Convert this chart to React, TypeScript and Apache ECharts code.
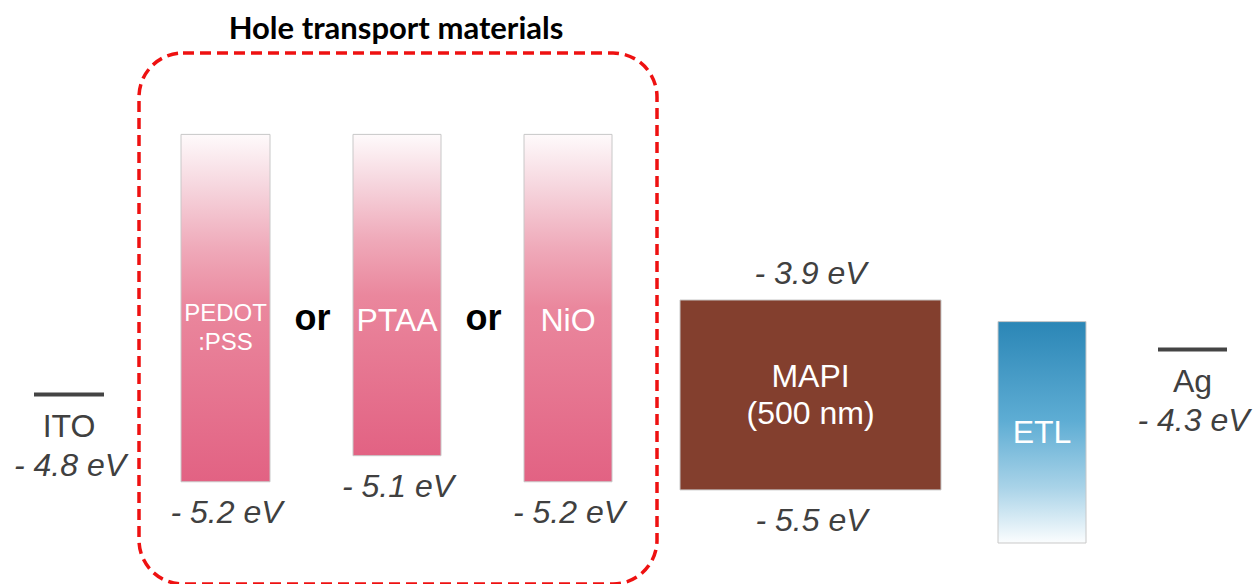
import React, { useEffect, useRef } from "react";
import * as echarts from "echarts";

// ---- data ----
const LAYERS = ["PEDOT\n:PSS", "PTAA", "NiO", "MAPI\n(500 nm)", "ETL"];
// drawn levels of each layer (schematic energy scale, eV)
const LAYER_TOP = [-1.91, -1.91, -1.91, -3.75, -3.99];
const LAYER_BOTTOM = [-5.77, -5.48, -5.77, -5.86, -6.45];
const TOP_LABELS = ["", "", "", "- 3.9 eV", ""];
const BOTTOM_LABELS = ["- 5.2 eV", "- 5.1 eV", "- 5.2 eV", "- 5.5 eV", ""];
const ELECTRODES = ["ITO", "Ag"];
const ELECTRODE_LEVEL = [-4.8, -4.3];
const ELECTRODE_LABELS = ["- 4.8 eV", "- 4.3 eV"];
const GROUP_TITLE = "Hole transport materials";
const SEPARATOR = "or";

// ---- layout ----
const W = 1253;
const H = 584;
const Y_MAX = -0.4167;
const Y_MIN = -6.9056;
const LAYER_X = [
  [181, 270],
  [353, 441],
  [524, 612],
  [680, 941],
  [998, 1086],
];
const LAYER_KIND = ["htm", "htm", "htm", "mapi", "etl"];
const HTM_NAME_LEVEL = -3.97;
const ELECTRODE_X = [
  [34, 104],
  [1158, 1227],
];
const FONT = "'Liberation Sans', Arial, sans-serif";
const LABEL_COLOR = "#404040";

function fillFor(kind: string) {
  if (kind === "htm") {
    return new echarts.graphic.LinearGradient(0, 0, 0, 1, [
      { offset: 0, color: "#fefafb" },
      { offset: 0.15, color: "#f6d6de" },
      { offset: 0.33, color: "#efa9b9" },
      { offset: 0.5, color: "#ea879d" },
      { offset: 1, color: "#e26283" },
    ]);
  }
  if (kind === "etl") {
    return new echarts.graphic.LinearGradient(0, 0, 0, 1, [
      { offset: 0, color: "#2b86b6" },
      { offset: 0.45, color: "#5eadd4" },
      { offset: 0.75, color: "#a9d3e8" },
      { offset: 1, color: "#fbfdfe" },
    ]);
  }
  return "#833f2e";
}

export default function App() {
  const ref = useRef<HTMLDivElement>(null);
  useEffect(() => {
    document.body.style.margin = "0";
    const chart = echarts.init(ref.current!, null, { renderer: "svg" });

    const layerData = LAYERS.map((n, i) => [LAYER_X[i][0], LAYER_TOP[i], LAYER_X[i][1], LAYER_BOTTOM[i]]);
    const electrodeData = ELECTRODES.map((n, i) => [ELECTRODE_X[i][0], ELECTRODE_LEVEL[i], ELECTRODE_X[i][1]]);

    const txt = (x: number, y: number, text: string, extra: any) => ({
      type: "text",
      x,
      y,
      style: {
        text,
        fontFamily: FONT,
        align: "center",
        verticalAlign: "middle",
        ...extra,
      },
    });

    const option: any = {
      animation: false,
      grid: { left: 0, top: 0, width: W, height: H },
      xAxis: { type: "value", min: 0, max: W, show: false },
      yAxis: { type: "value", min: Y_MIN, max: Y_MAX, show: false },
      graphic: [
        {
          type: "rect",
          shape: { x: 139, y: 53, width: 518, height: 531, r: 44 },
          style: { fill: "none", stroke: "#ee1111", lineWidth: 3.5, lineDash: [11, 6] },
          z: 1,
        },
        {
          type: "text",
          x: 396,
          y: 27,
          style: {
            text: GROUP_TITLE,
            fontFamily: "Lato, 'Open Sans', sans-serif",
            fontWeight: "bold",
            fontSize: 31,
            fill: "#000",
            align: "center",
            verticalAlign: "middle",
          },
        },
      ],
      series: [
        {
          type: "custom",
          data: layerData,
          renderItem: (params: any, api: any) => {
            const i = params.dataIndex;
            const kind = LAYER_KIND[i];
            const p1 = api.coord([api.value(0), api.value(1)]);
            const p2 = api.coord([api.value(2), api.value(3)]);
            const cx = (p1[0] + p2[0]) / 2;
            const children: any[] = [
              {
                type: "rect",
                shape: { x: p1[0], y: p1[1], width: p2[0] - p1[0], height: p2[1] - p1[1] },
                style: { fill: fillFor(kind), stroke: "#c8c8c8", lineWidth: 1 },
              },
            ];
            let nameY = (p1[1] + p2[1]) / 2;
            let nameSize = 32;
            let lh = 37;
            if (kind === "htm") {
              nameY = api.coord([0, HTM_NAME_LEVEL])[1];
              if (LAYERS[i].indexOf("\n") >= 0) {
                nameSize = 24;
                lh = 29;
                nameY += 7;
              } else {
                nameSize = 32;
              }
            }
            children.push(
              txt(cx, nameY, LAYERS[i], { fontSize: nameSize, lineHeight: lh, fill: "#ffffff" })
            );
            if (TOP_LABELS[i]) {
              children.push(
                txt(cx, p1[1] - 27, TOP_LABELS[i], { fontSize: 32, fontStyle: "italic", fill: LABEL_COLOR })
              );
            }
            if (BOTTOM_LABELS[i]) {
              children.push(
                txt(cx + 1, p2[1] + 30, BOTTOM_LABELS[i], { fontSize: 32, fontStyle: "italic", fill: LABEL_COLOR })
              );
            }
            if (kind === "htm" && i + 1 < LAYERS.length && LAYER_KIND[i + 1] === "htm") {
              const nx = api.coord([LAYER_X[i + 1][0], 0])[0];
              const oy = api.coord([0, HTM_NAME_LEVEL])[1] - 2;
              children.push(
                txt((p2[0] + nx) / 2 + 1, oy, SEPARATOR, {
                  fontSize: 36,
                  fontWeight: "bold",
                  fill: "#000000",
                })
              );
            }
            return { type: "group", children };
          },
          z: 2,
        },
        {
          type: "custom",
          data: electrodeData,
          renderItem: (params: any, api: any) => {
            const i = params.dataIndex;
            const p1 = api.coord([api.value(0), api.value(1)]);
            const p2 = api.coord([api.value(2), api.value(1)]);
            const cx = (p1[0] + p2[0]) / 2;
            return {
              type: "group",
              children: [
                {
                  type: "line",
                  shape: { x1: p1[0], y1: p1[1], x2: p2[0], y2: p2[1] },
                  style: { stroke: "#444444", lineWidth: 4 },
                },
                txt(cx, p1[1] + 32, ELECTRODES[i], { fontSize: 32, fill: LABEL_COLOR }),
                txt(cx + 1, p1[1] + 71, ELECTRODE_LABELS[i], {
                  fontSize: 32,
                  fontStyle: "italic",
                  fill: LABEL_COLOR,
                }),
              ],
            };
          },
          z: 2,
        },
      ],
    };
    chart.setOption(option);
    return () => chart.dispose();
  }, []);
  return <div ref={ref} style={{ width: W, height: H }} />;
}
